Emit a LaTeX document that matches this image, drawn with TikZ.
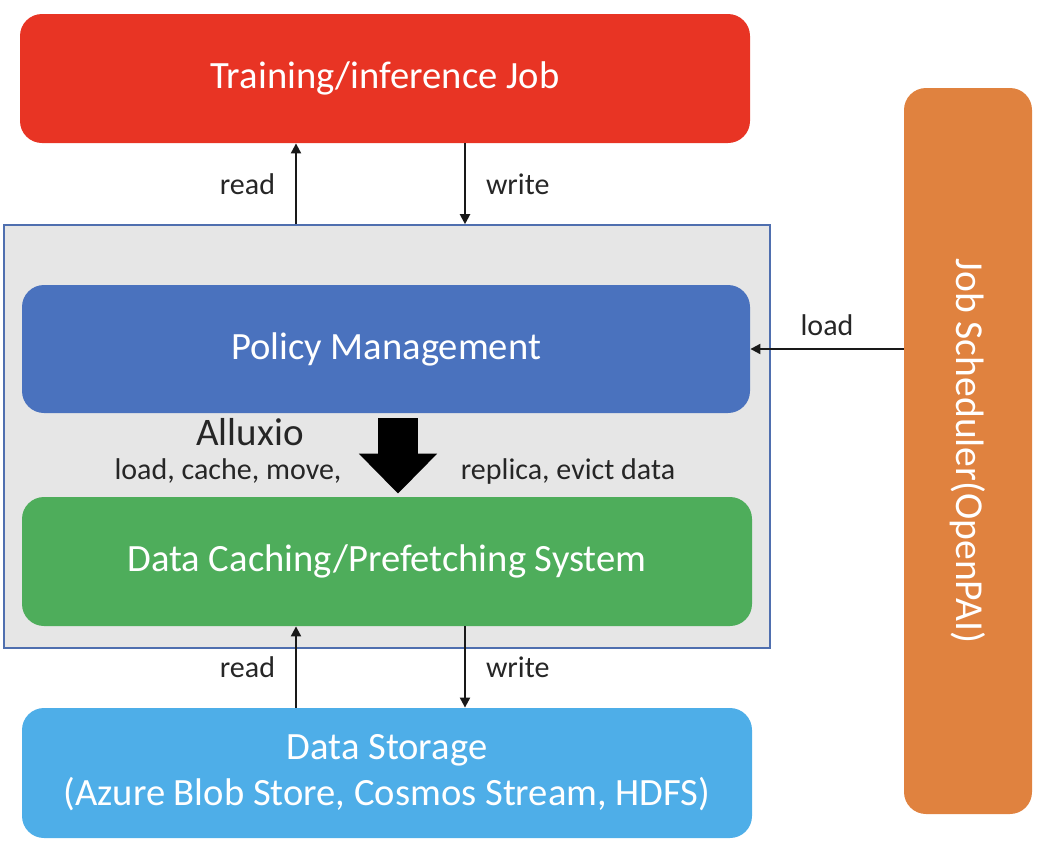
\documentclass[tikz,border=0pt]{standalone}
\usepackage{fontspec}
\setmainfont{Carlito}
\usetikzlibrary{arrows.meta,positioning}

\definecolor{jobred}{HTML}{E83424}
\definecolor{schedorange}{HTML}{E0823F}
\definecolor{policyblue}{HTML}{4A72BE}
\definecolor{cachegreen}{HTML}{4EAD5B}
\definecolor{storeblue}{HTML}{4EAEE8}
\definecolor{frameblue}{HTML}{4F6FAF}
\definecolor{framegray}{HTML}{E6E6E6}

\begin{document}
\begin{tikzpicture}
  [
    x = 0.5pt,
    y = -0.5pt,
    font = \fontsize{19.3}{23}\selectfont,
    box/.style = {
      rounded corners = 11pt,
      text = white,
      align = center,
      inner sep = 0pt,
    },
    flowlabel/.style = {
      font = \fontsize{15}{17}\selectfont,
      text = black!85,
      inner sep = 10pt,
    },
    > = {Triangle[width=5pt,length=5pt]},
    link/.style = {
      ->,
      line width = 1pt,
      black!90,
    },
    bigarrow/.style = {
      line width = 20pt,
      -{Triangle[width=38pt,length=20pt]},
    },
  ]

  \useasboundingbox (0,0) rectangle (1042,846);

  \node (alluxio) [
    fill = framegray,
    draw = frameblue,
    line width = 0.8pt,
    minimum width = 383pt,
    minimum height = 211.5pt,
  ] at (387,436.5) {};

  \node (job) [
    box,
    fill = jobred,
    minimum width = 365pt,
    minimum height = 64.5pt,
  ] at (385,78.5) {Training/inference Job};

  \node (policy) [
    box,
    fill = policyblue,
    minimum width = 364pt,
    minimum height = 64pt,
  ] at (386,349) {Policy Management};

  \node (cache) [
    box,
    fill = cachegreen,
    minimum width = 365pt,
    minimum height = 64.5pt,
  ] at (387,561.5) {Data Caching/Prefetching System};

  \node (storage) [
    box,
    fill = storeblue,
    minimum width = 365pt,
    minimum height = 65pt,
  ] at (387,773) {Data Storage\\(Azure Blob Store, Cosmos Stream, HDFS)};

  \node (scheduler) [
    box,
    fill = schedorange,
    minimum width = 64pt,
    minimum height = 363pt,
  ] at (968,451) {};
  \node (scheduler text) [
    rotate = -90,
    text = white,
    font = \fontsize{19.8}{23}\selectfont,
  ] at (scheduler.center) {Job Scheduler(OpenPAI)};

  \coordinate (read x) at (296,0);
  \coordinate (write x) at (465,0);
  \coordinate (flow x) at (398,0);

  \draw [link] (alluxio.north -| read x) -- (job.south -| read x)
    node [flowlabel, midway, left] {read};
  \draw [link] (job.south -| write x) -- (alluxio.north -| write x)
    node [flowlabel, midway, right] {write};

  \draw [link] (storage.north -| read x) -- (cache.south -| read x)
    node [flowlabel, midway, left] {read};
  \draw [link] (cache.south -| write x) -- (storage.north -| write x)
    node [flowlabel, midway, right] {write};

  \draw [link] (scheduler.west |- policy.east) -- (policy.east)
    node [flowlabel, midway, above, inner sep = 6pt] {load};

  \draw [bigarrow] ([yshift=-2.5pt] policy.south -| flow x) -- ([yshift=1.5pt] cache.north -| flow x);

  \node (alluxio name) [
    font = \fontsize{19.5}{22}\selectfont,
    text = black!85,
    inner sep = 0pt,
  ] at (250,432) {Alluxio};
  \node (ops left) [flowlabel, inner sep = 0pt] at (228,471) {load, cache, move,};
  \node (ops right) [flowlabel, inner sep = 0pt] at (568,471) {replica, evict data};

\end{tikzpicture}
\end{document}
